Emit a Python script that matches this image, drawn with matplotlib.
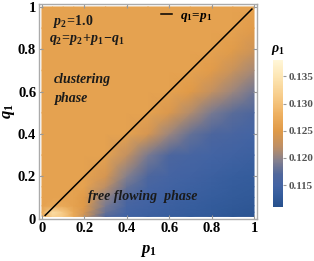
import numpy as np
import matplotlib.pyplot as plt
from matplotlib.colors import LinearSegmentedColormap, Normalize

plt.rcParams["font.family"] = "Liberation Serif"
plt.rcParams["font.weight"] = "bold"
plt.rcParams["mathtext.fontset"] = "custom"
plt.rcParams["mathtext.it"] = "Liberation Serif:italic:bold"
plt.rcParams["mathtext.rm"] = "Liberation Serif:bold"
plt.rcParams["mathtext.bf"] = "Liberation Serif:bold"

# grid: rows are q1, columns are p1
p1 = [0.0, 0.05, 0.1, 0.15, 0.2, 0.3, 0.4, 0.5, 0.6, 0.7, 0.8, 0.9, 1.0]
q1 = [0.01, 0.03, 0.06, 0.1, 0.15, 0.2, 0.3, 0.4, 0.5, 0.6, 0.7, 0.8, 0.9, 1.0]
rho1 = [
    [.127, .132, .131, .127, .123, .117, .1145, .114, .1135, .113, .1125, .112, .1118],
    [.127, .134, .131, .127, .124, .118, .115, .1143, .1138, .1133, .1128, .1123, .112],
    [.126, .127, .127, .126, .125, .119, .1155, .1146, .114, .1135, .113, .1125, .1122],
    [.126, .126, .126, .126, .125, .120, .1165, .115, .1143, .1138, .1133, .1128, .1125],
    [.126, .126, .126, .126, .126, .122, .118, .1155, .1148, .1142, .1137, .1132, .1128],
    [.126, .126, .126, .126, .126, .124, .1195, .1165, .1152, .1146, .114, .1135, .1131],
    [.126, .126, .126, .126, .126, .126, .1225, .119, .1165, .1155, .115, .1145, .114],
    [.126, .126, .126, .126, .126, .126, .126, .124, .1205, .118, .1165, .1158, .115],
    [.126, .126, .126, .126, .126, .126, .126, .126, .1245, .1215, .119, .1175, .1165],
    [.126, .126, .126, .126, .126, .126, .126, .126, .126, .125, .1225, .1205, .1185],
    [.126, .126, .126, .126, .126, .126, .126, .126, .126, .126, .1252, .123, .121],
    [.126, .126, .126, .126, .126, .126, .126, .126, .126, .126, .126, .1253, .1235],
    [.126, .126, .126, .126, .126, .126, .126, .126, .126, .126, .126, .126, .1252],
    [.126, .126, .126, .126, .126, .126, .126, .126, .126, .126, .126, .126, .126],
]
cbar_ticks = [0.115, 0.120, 0.125, 0.130, 0.135]
vmin, vmax = 0.111, 0.138

# colour stops (value, colour)
stops = [(0.111, "#27508c"), (0.113, "#345c9c"), (0.115, "#4464a4"),
         (0.117, "#50679c"), (0.1195, "#85808e"), (0.122, "#bd8f66"),
         (0.125, "#e09a48"), (0.128, "#eeb060"), (0.131, "#f6c985"),
         (0.135, "#fde6b4"), (0.138, "#fff6d8")]
cmap = LinearSegmentedColormap.from_list(
    "m10", [((v - vmin) / (vmax - vmin), c) for v, c in stops])
norm = Normalize(vmin, vmax)

fig = plt.figure(figsize=(3.14, 2.61), dpi=100)
ax = fig.add_axes([0.1242, 0.161, 0.6943, 0.8237])

P, Q = np.meshgrid(p1, q1)
ax.pcolormesh(P, Q, np.array(rho1), cmap=cmap, norm=norm, shading="gouraud",
              rasterized=True)
ax.plot([0.015, 0.99], [0.015, 0.99], color="black", lw=1.1, label=r"$q_1\!=\!p_1$")

ax.set_xlim(-0.014, 1.014)
ax.set_ylim(-0.002, 1.014)
ticks = [0, 0.2, 0.4, 0.6, 0.8, 1]
labels = ["0", "0.2", "0.4", "0.6", "0.8", "1"]
ax.set_xticks(ticks, labels)
ax.set_yticks(ticks, labels)
ax.tick_params(direction="in", length=3, color="#999999", labelsize=10.5,
               top=True, right=True, pad=2)
for s in ax.spines.values():
    s.set_color("#aaaaaa")
    s.set_linewidth(1.0)

ax.set_xlabel(r"$p_1$", fontsize=12, labelpad=6)
ax.set_ylabel(r"$q_1$", fontsize=12, labelpad=1)

txt = dict(fontsize=10, color="#1a1a1a")
ax.text(0.05, 0.93, r"$p_2\!=\!1.0$", va="center", **txt)
ax.text(0.035, 0.845, r"$q_2\!=\!p_2\!+\!p_1\!-\!q_1$", va="center", **txt)
ax.text(0.055, 0.656, "clustering", style="italic", va="center", **txt)
ax.text(0.06, 0.566, "phase", style="italic", va="center", **txt)
ax.text(0.215, 0.104, "free flowing  phase", style="italic", va="center", **txt)

leg = ax.legend(loc="upper left", bbox_to_anchor=(0.56, 0.975), frameon=False,
                borderaxespad=0, borderpad=0, handlelength=0.8,
                handletextpad=0.6, fontsize=9.5)

cax = fig.add_axes([0.869, 0.207, 0.032, 0.563])
cb = fig.colorbar(plt.cm.ScalarMappable(norm=norm, cmap=cmap), cax=cax,
                  ticks=cbar_ticks)
cb.outline.set_visible(False)
cb.ax.set_yticklabels([f"{t:.3f}" for t in cbar_ticks])
cb.ax.tick_params(labelsize=8, length=2, color="#999999", labelcolor="#555555",
                  pad=2)
cb.ax.set_title(r"$\rho_1$", fontsize=10, pad=6)

fig.savefig("out.png", dpi=100)
